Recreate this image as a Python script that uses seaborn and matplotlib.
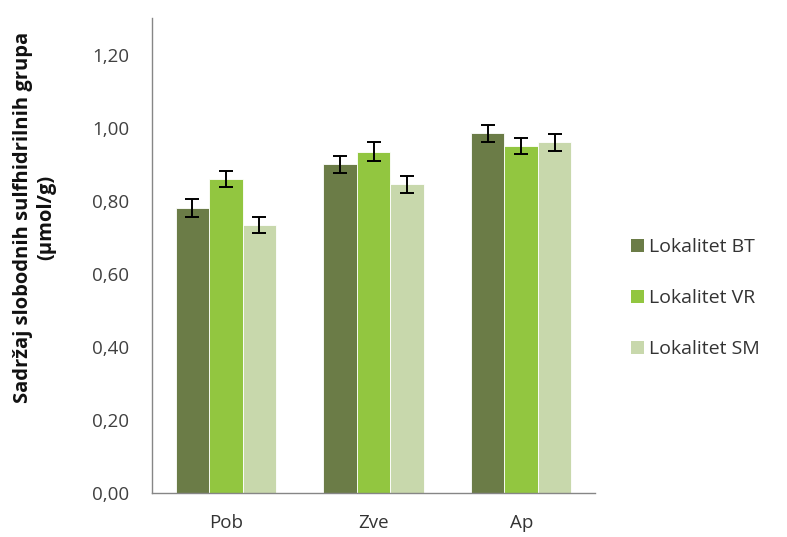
import pandas as pd
import seaborn as sns
import matplotlib.pyplot as plt
from matplotlib.ticker import FuncFormatter
from matplotlib.patches import Patch

# values
groups = ["Pob", "Zve", "Ap"]
sites = ["Lokalitet BT", "Lokalitet VR", "Lokalitet SM"]
bt = [0.78, 0.90, 0.985]
vr = [0.86, 0.935, 0.950]
sm = [0.735, 0.845, 0.960]
bt_err = [0.024, 0.024, 0.024]
vr_err = [0.023, 0.025, 0.023]
sm_err = [0.022, 0.023, 0.024]
colors = ["#6b7c47", "#92c640", "#c8d8ac"]

df = pd.DataFrame({
    "group": groups * 3,
    "site": [sites[0]] * 3 + [sites[1]] * 3 + [sites[2]] * 3,
    "value": bt + vr + sm,
    "err": bt_err + vr_err + sm_err,
})

sns.set_style("white")
plt.rcParams["font.family"] = ["Open Sans", "DejaVu Sans"]

fig = plt.figure(figsize=(7.87, 5.37), dpi=100)
ax = fig.add_axes([0.1931, 0.082, 0.563, 0.884])

sns.barplot(data=df, x="group", y="value", hue="site", order=groups, hue_order=sites,
            palette=colors, saturation=1, width=0.68, gap=0, errorbar=None, legend=False,
            ax=ax, edgecolor="white", linewidth=0.6)

# error bars on each bar
for cont, site in zip(ax.containers, sites):
    sub = df[df["site"] == site].set_index("group").loc[groups]
    xs = [p.get_x() + p.get_width() / 2 for p in cont.patches]
    ax.errorbar(xs, sub["value"], yerr=sub["err"], fmt="none", ecolor="black",
                elinewidth=1.4, capsize=5, capthick=1.4, zorder=5)

ax.set_ylim(0, 1.3)
ax.set_xlim(-0.5, 2.5)
ax.set_yticks([0, 0.2, 0.4, 0.6, 0.8, 1.0, 1.2])
ax.yaxis.set_major_formatter(FuncFormatter(lambda v, p: f"{v:.2f}".replace(".", ",")))
ax.set_xticks([0, 1, 2])
ax.set_xticks([-0.5, 0.5, 1.5, 2.5], minor=True)
ax.tick_params(axis="x", which="major", length=0, labelsize=13.5, colors="#333333", pad=15)
ax.tick_params(axis="x", which="minor", length=8, direction="inout", color="#868686")
ax.tick_params(axis="y", length=9, direction="inout", color="#868686", labelsize=13.5,
               labelcolor="#404040", pad=12)
ax.set_xlabel("")
ax.set_ylabel("")
sns.despine(ax=ax)
for s in ["left", "bottom"]:
    ax.spines[s].set_color("#868686")
    ax.spines[s].set_linewidth(1)

fig.text(0.044, 0.595, "Sadržaj slobodnih sulfhidrilnih grupa\n(µmol/g)", rotation=90,
         ha="center", va="center", fontsize=14.5, fontweight="bold", color="#111111",
         linespacing=1.25)

handles = [Patch(facecolor=c, edgecolor="none") for c in colors]
fig.legend(handles, sites, loc="center left", bbox_to_anchor=(0.78, 0.445), frameon=False,
           fontsize=14, handlelength=0.65, handleheight=0.65, handletextpad=0.25,
           labelspacing=1.7, labelcolor="#333333")

plt.savefig("out.png", dpi=100)
